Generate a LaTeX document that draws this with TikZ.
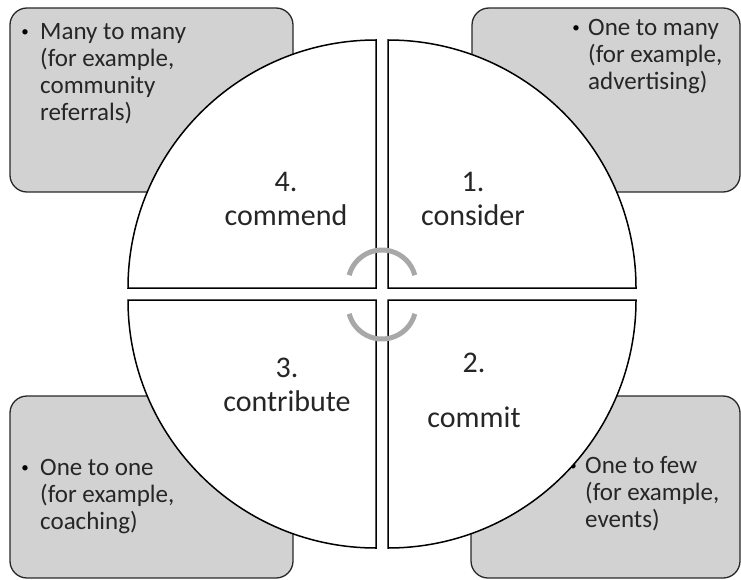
\documentclass[tikz,border=0pt]{standalone}
\usepackage{fontspec}
\setmainfont{Carlito}
\definecolor{boxfill}{RGB}{210,210,210}
\definecolor{boxline}{RGB}{40,40,40}
\definecolor{txt}{RGB}{38,38,38}
\definecolor{arrowgray}{RGB}{168,168,168}
\begin{document}
\begin{tikzpicture}[x=1pt,y=-1pt,
  box/.style={draw=boxline, fill=boxfill, line width=1.3pt, rounded corners=17pt},
  quad/.style={draw=black, fill=white, line width=1.5pt},
  qlabel/.style={font=\fontsize{30}{34}\selectfont, text=txt, inner sep=0pt, anchor=base},
  btext/.style={font=\fontsize{25}{27}\selectfont, text=txt, inner sep=0pt, anchor=base west},
  bul/.style={font=\fontsize{15}{17}\selectfont, text=black, inner sep=0pt, anchor=base},
  cyc/.style={draw=arrowgray, line width=5pt}]
\useasboundingbox (0,0) rectangle (741,580);
% grey boxes
\draw[box] (10,8) rectangle (293,192);
\draw[box] (472,8) rectangle (740,192);
\draw[box] (10,396) rectangle (293,578);
\draw[box] (471,396) rectangle (740,578);
% box texts
\node[bul] (b4) at (25,37) {•};
\node[btext] (t4) at (40,40) {\begin{tabular}[t]{@{}l@{}}Many to many\\(for example,\\community\\referrals)\end{tabular}};
\node[bul] (b1) at (576,33) {•};
\node[btext] (t1) at (588,36) {\begin{tabular}[t]{@{}l@{}}One to many\\(for example,\\advertising)\end{tabular}};
\node[bul] (b3) at (25,472) {•};
\node[btext] (t3) at (40,475) {\begin{tabular}[t]{@{}l@{}}One to one\\(for example,\\coaching)\end{tabular}};
\node[bul] (b2) at (573,470) {•};
\node[btext] (t2) at (585,473) {\begin{tabular}[t]{@{}l@{}}One to few\\(for example,\\events)\end{tabular}};
% quadrants
\coordinate (c4) at (376,288);
\coordinate (c1) at (388,288);
\coordinate (c2) at (388,300);
\coordinate (c3) at (376,300);
\draw[quad] (c4) -- ++(-248,0) arc[start angle=180, end angle=270, radius=248] -- cycle;
\draw[quad] (c1) -- ++(0,-248) arc[start angle=270, end angle=360, radius=248] -- cycle;
\draw[quad] (c2) -- ++(248,0) arc[start angle=0, end angle=90, radius=248] -- cycle;
\draw[quad] (c3) -- ++(0,248) arc[start angle=90, end angle=180, radius=248] -- cycle;
% quadrant labels
\node[qlabel] (q4) at (286,192) {\begin{tabular}[t]{@{}c@{}}4.\\commend\end{tabular}};
\node[qlabel] (q1) at (473,192) {\begin{tabular}[t]{@{}c@{}}1.\\consider\end{tabular}};
\node[qlabel] (q3) at (287,377) {\begin{tabular}[t]{@{}c@{}}3.\\contribute\end{tabular}};
\node[qlabel] (q2) at (474,372) {\begin{tabular}[t]{@{}c@{}}2.\\[21pt]commit\end{tabular}};
% cycle arcs
\coordinate (ctop) at (382,284);
\coordinate (cbot) at (382,305);
\draw[cyc] ([shift={(195:34)}]ctop) arc[start angle=195, end angle=345, radius=34];
\draw[cyc] ([shift={(165:34)}]cbot) arc[start angle=165, end angle=15, radius=34];
\end{tikzpicture}
\end{document}
